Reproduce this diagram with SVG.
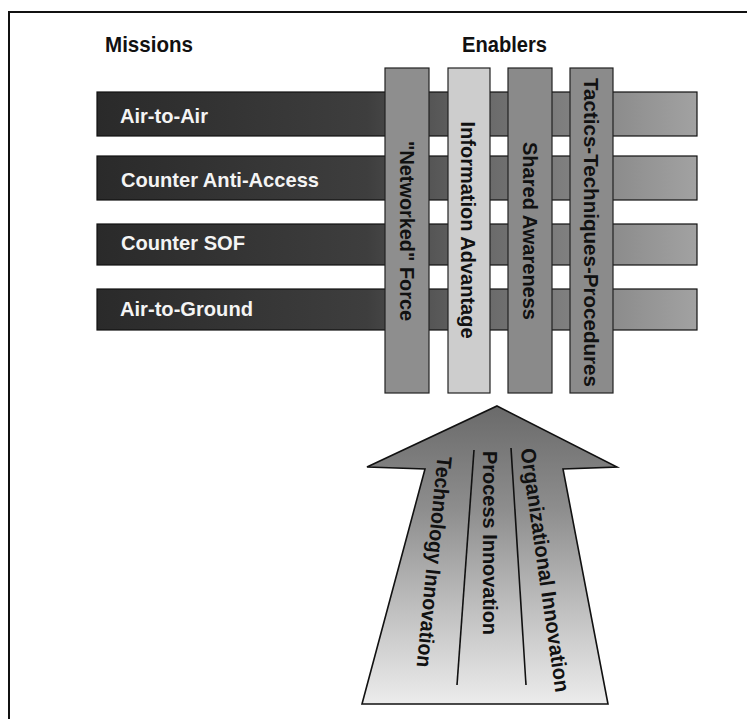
<svg xmlns="http://www.w3.org/2000/svg" width="747" height="719" viewBox="0 0 747 719">
  <defs>
    <linearGradient id="hgrad" x1="97" y1="0" x2="697" y2="0" gradientUnits="userSpaceOnUse">
      <stop offset="0" stop-color="#2a2a2a"/>
      <stop offset="0.45" stop-color="#3e3e3e"/>
      <stop offset="0.65" stop-color="#6a6a6a"/>
      <stop offset="1" stop-color="#a2a2a2"/>
    </linearGradient>
    <linearGradient id="agrad" x1="0" y1="406" x2="0" y2="704" gradientUnits="userSpaceOnUse">
      <stop offset="0" stop-color="#6a6a6a"/>
      <stop offset="0.35" stop-color="#8e8e8e"/>
      <stop offset="0.7" stop-color="#c2c2c2"/>
      <stop offset="1" stop-color="#ececec"/>
    </linearGradient>
    <style>
      .hdr { font-family: "Liberation Sans", Arial, sans-serif; font-weight: bold; font-size: 22px; fill: #111; }
      .mis { font-family: "Liberation Sans", Arial, sans-serif; font-weight: bold; font-size: 21px; fill: #f4f4f4; }
      .vl { font-family: "Liberation Sans", Arial, sans-serif; font-weight: bold; font-size: 21px; fill: #111; text-anchor: middle; }
      .hbar { fill: url(#hgrad); stroke: #111; stroke-width: 1.2; }
      .vbar { stroke: #222; stroke-width: 1.2; }
      .frame { stroke: #111; stroke-width: 2; fill: none; }
      .div { stroke: #111; stroke-width: 1.6; fill: none; }
    </style>
  </defs>
  <rect x="0" y="0" width="747" height="719" fill="#ffffff"/>
  <path class="frame" d="M9,719 V12 H747"/>

  <g id="headers">
    <text class="hdr" x="105" y="52" textLength="88" lengthAdjust="spacingAndGlyphs">Missions</text>
    <text class="hdr" x="462" y="52" textLength="85" lengthAdjust="spacingAndGlyphs">Enablers</text>
  </g>

  <g id="mission-air-to-air">
    <rect class="hbar" x="97" y="92" width="600" height="44"/>
    <text class="mis" x="120" y="123" textLength="88" lengthAdjust="spacingAndGlyphs">Air-to-Air</text>
  </g>
  <g id="mission-counter-anti-access">
    <rect class="hbar" x="97" y="156" width="600" height="44"/>
    <text class="mis" x="121" y="187" textLength="198" lengthAdjust="spacingAndGlyphs">Counter Anti-Access</text>
  </g>
  <g id="mission-counter-sof">
    <rect class="hbar" x="97" y="224" width="600" height="41"/>
    <text class="mis" x="121" y="250" textLength="124" lengthAdjust="spacingAndGlyphs">Counter SOF</text>
  </g>
  <g id="mission-air-to-ground">
    <rect class="hbar" x="97" y="289" width="600" height="41"/>
    <text class="mis" x="120" y="316" textLength="133" lengthAdjust="spacingAndGlyphs">Air-to-Ground</text>
  </g>

  <g id="enabler-networked-force">
    <rect class="vbar" x="385" y="68" width="44" height="325" fill="#8e8e8e"/>
    <text class="vl" transform="translate(407,231) rotate(90)" y="7.5" textLength="180" lengthAdjust="spacingAndGlyphs">"Networked" Force</text>
  </g>
  <g id="enabler-information-advantage">
    <rect class="vbar" x="448" y="68" width="42" height="325" fill="#cdcdcd"/>
    <text class="vl" transform="translate(468,230) rotate(90)" y="7.5" textLength="217" lengthAdjust="spacingAndGlyphs">Information Advantage</text>
  </g>
  <g id="enabler-shared-awareness">
    <rect class="vbar" x="508" y="68" width="44" height="325" fill="#8a8a8a"/>
    <text class="vl" transform="translate(530,231) rotate(90)" y="7.5" textLength="178" lengthAdjust="spacingAndGlyphs">Shared Awareness</text>
  </g>
  <g id="enabler-ttp">
    <rect class="vbar" x="570" y="68" width="43" height="325" fill="#8b8b8b"/>
    <text class="vl" transform="translate(591,232.5) rotate(90)" y="7.5" textLength="309" lengthAdjust="spacingAndGlyphs">Tactics-Techniques-Procedures</text>
  </g>

  <g id="innovation-arrow">
    <path d="M497,406 L617,467 L563,469 L608,704 L362,704 L425,469 L367,467 Z" fill="url(#agrad)" stroke="#111" stroke-width="1.6" stroke-linejoin="miter"/>
    <line class="div" x1="474" y1="450" x2="457" y2="685"/>
    <line class="div" x1="511" y1="448" x2="526" y2="685"/>
    <text class="vl" transform="translate(434.5,562) rotate(95.7)" y="7.5" textLength="212" lengthAdjust="spacingAndGlyphs">Technology Innovation</text>
    <text class="vl" transform="translate(490,543) rotate(90)" y="7.5" textLength="184" lengthAdjust="spacingAndGlyphs">Process Innovation</text>
    <text class="vl" transform="translate(545.5,570) rotate(81.8)" y="7.5" textLength="246" lengthAdjust="spacingAndGlyphs">Organizational Innovation</text>
  </g>

  <g id="connectors"/>
</svg>
